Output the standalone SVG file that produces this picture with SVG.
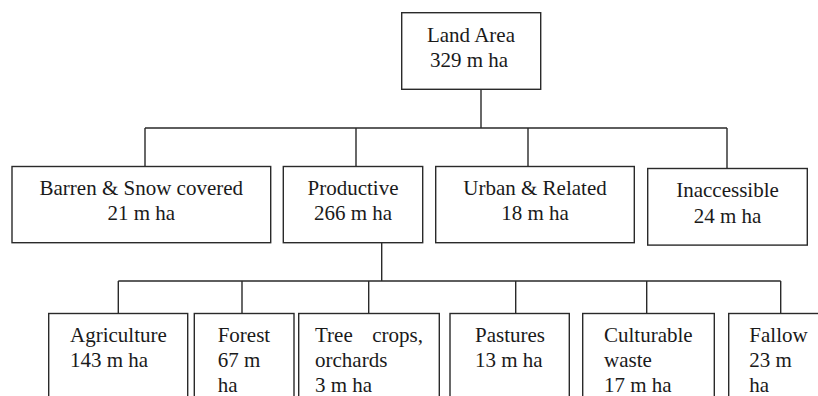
<svg xmlns="http://www.w3.org/2000/svg" width="818" height="396" viewBox="0 0 818 396">
<style>
.box{fill:#fff;stroke:#2a2a2a;stroke-width:1.4}
.ln{stroke:#2a2a2a;stroke-width:1.4;fill:none}
.t text{font-size:21px;fill:#1a1a1a}
.c{text-anchor:middle}
</style>
<rect width="818" height="396" fill="#fff"/>
<g id="connectors">
<path class="ln" d="M481,89 V128 M145,128 H727 M145,128 V166.5 M356,128 V166.5 M528,128 V166.5 M727,128 V168.5"/>
<path class="ln" d="M381.7,243 V281 M118.3,281 H780.7 M118.3,281 V313.5 M242,281 V313.5 M368.7,281 V313.5 M515.7,281 V313.5 M646.7,281 V313.5 M780.7,281 V313.5"/>
</g>
<g class="t" font-family="'Liberation Serif', 'DejaVu Serif', serif">
<g id="land-area">
<rect class="box" x="401.7" y="12.7" width="139" height="76.6"/>
<text class="c" x="471" y="41.7">Land Area</text>
<text class="c" x="469" y="66.7">329 m ha</text>
</g>
<g id="barren">
<rect class="box" x="12" y="166.5" width="258.7" height="76.2"/>
<text class="c" x="141.3" y="195">Barren &amp; Snow covered</text>
<text class="c" x="141.3" y="220">21 m ha</text>
</g>
<g id="productive">
<rect class="box" x="283.3" y="166.5" width="139.4" height="76.2"/>
<text class="c" x="353" y="195">Productive</text>
<text class="c" x="353" y="220">266 m ha</text>
</g>
<g id="urban">
<rect class="box" x="435.7" y="166.5" width="198.6" height="76.2"/>
<text class="c" x="535" y="195">Urban &amp; Related</text>
<text class="c" x="535" y="220">18 m ha</text>
</g>
<g id="inaccessible">
<rect class="box" x="647.7" y="168.5" width="159.6" height="76.6"/>
<text class="c" x="727.5" y="197.3">Inaccessible</text>
<text class="c" x="727.5" y="222.5">24 m ha</text>
</g>
<g id="agriculture">
<rect class="box" x="48.7" y="313.5" width="139" height="100"/>
<text x="70" y="342">Agriculture</text>
<text x="70" y="367">143 m ha</text>
</g>
<g id="forest">
<rect class="box" x="194.3" y="313.5" width="99.7" height="100"/>
<text x="217.7" y="342">Forest</text>
<text x="217.7" y="367">67 m</text>
<text x="217.7" y="392">ha</text>
</g>
<g id="tree-crops">
<rect class="box" x="298.7" y="313.5" width="140.6" height="100"/>
<text y="342"><tspan x="315">Tree</tspan><tspan x="423" text-anchor="end">crops,</tspan></text>
<text x="315" y="367">orchards</text>
<text x="315" y="392">3 m ha</text>
</g>
<g id="pastures">
<rect class="box" x="450" y="313.5" width="119.3" height="100"/>
<text x="475" y="342">Pastures</text>
<text x="475" y="367">13 m ha</text>
</g>
<g id="culturable-waste">
<rect class="box" x="582.7" y="313.5" width="131.6" height="100"/>
<text x="604" y="342">Culturable</text>
<text x="604" y="367">waste</text>
<text x="604" y="392">17 m ha</text>
</g>
<g id="fallow">
<rect class="box" x="728.7" y="313.5" width="110" height="100"/>
<text x="749.3" y="342">Fallow</text>
<text x="749.3" y="367">23 m</text>
<text x="749.3" y="392">ha</text>
</g>
</g>
</svg>
